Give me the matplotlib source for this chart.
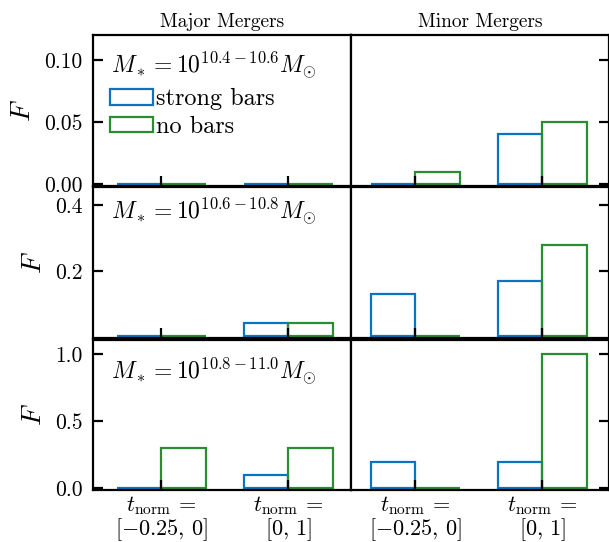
import numpy as np
import matplotlib
matplotlib.use("Agg")
import matplotlib.pyplot as plt

plt.rcParams["font.family"] = "cmr10"
plt.rcParams["mathtext.fontset"] = "cm"
plt.rcParams["axes.formatter.use_mathtext"] = True
plt.rcParams["axes.unicode_minus"] = False

# --- data: fraction F per time bin, rows = mass bins, cols = merger type
bins = [r"$t_{\rm norm}\,=$" + "\n" + r"$[-0.25,\,0]$", r"$t_{\rm norm}\,=$" + "\n" + r"$[0,\,1]$"]
col_titles = ["Major Mergers", "Minor Mergers"]
mass_labels = [r"$M_*=10^{10.4-10.6}M_{\odot}$",
               r"$M_*=10^{10.6-10.8}M_{\odot}$",
               r"$M_*=10^{10.8-11.0}M_{\odot}$"]
strong_major = [[0.0, 0.0], [0.0, 0.04], [0.0, 0.10]]
nobar_major = [[0.0, 0.0], [0.0, 0.04], [0.30, 0.30]]
strong_minor = [[0.0, 0.04], [0.13, 0.17], [0.20, 0.20]]
nobar_minor = [[0.01, 0.05], [0.0, 0.28], [0.0, 1.0]]
ylims = [0.12, 0.455, 1.11]
yticks = [[0.0, 0.05, 0.10], [0.2, 0.4], [0.0, 0.5, 1.0]]
ytick_fmt = ["{:.2f}", "{:.1f}", "{:.1f}"]
label_y = [0.80, 0.84, 0.79]

BLUE = "#0a74c0"
GREEN = "#2a8c33"
W = 0.35
LW = 1.6


def main():
    fig, axes = plt.subplots(3, 2, figsize=(6.09, 5.42), dpi=100)
    fig.subplots_adjust(left=0.152, right=1.0, top=0.935, bottom=0.096,
                        wspace=0.0, hspace=0.012)
    x = np.arange(len(bins))
    for i in range(3):
        for j in range(2):
            ax = axes[i, j]
            sb = strong_major[i] if j == 0 else strong_minor[i]
            nb = nobar_major[i] if j == 0 else nobar_minor[i]
            ax.bar(x, sb, width=-W, align="edge", fill=False, edgecolor=BLUE,
                   lw=LW, label="strong bars")
            ax.bar(x, nb, width=W, align="edge", fill=False, edgecolor=GREEN,
                   lw=LW, label="no bars")
            ax.set_ylim(-0.01 * ylims[i], ylims[i])
            ax.set_xlim((-0.54, 1.49) if j == 0 else (-0.505, 1.525))
            ax.set_xticks(x)
            ax.set_yticks(yticks[i])
            ax.set_yticklabels([ytick_fmt[i].format(v) for v in yticks[i]])
            for s in ax.spines.values():
                s.set_linewidth(1.6)
            ax.tick_params(direction="in", length=7, width=1.6, labelsize=15.5)
            ax.tick_params(axis="y", pad=7)
            if j == 0:
                ax.tick_params(axis="y", left=True, right=False)
                ax.set_ylabel(r"$F$", fontsize=20, labelpad=6)
                ax.text(0.07, label_y[i], mass_labels[i], transform=ax.transAxes,
                        fontsize=17, va="center", ha="left")
            else:
                ax.tick_params(axis="y", left=False, right=True, labelleft=False)
            if i == 2:
                ax.set_xticklabels(bins, fontsize=16, linespacing=0.95)
                ax.tick_params(axis="x", pad=3)
            else:
                ax.set_xticklabels([])
            if i == 0:
                ax.set_title(col_titles[j], fontsize=14, pad=6)
    axes[0, 0].legend(loc="upper left", bbox_to_anchor=(0.066, 0.647), frameon=False,
                      fontsize=17.5, handlelength=1.8, handleheight=0.6,
                      handletextpad=0.1, labelspacing=0.22, borderaxespad=0,
                      borderpad=0)
    fig.savefig("out.png", dpi=100)


if __name__ == "__main__":
    main()
